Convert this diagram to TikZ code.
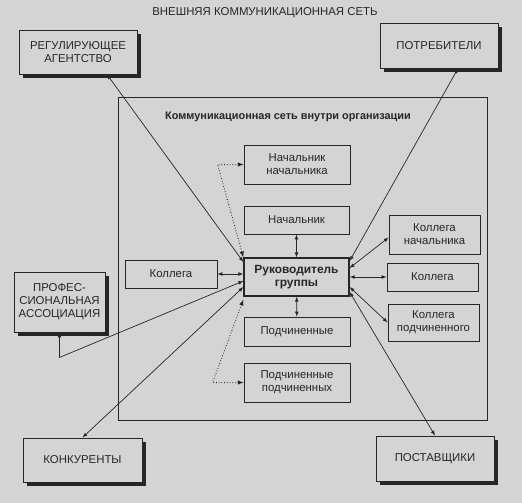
\documentclass[tikz,border=0pt]{standalone}
\usepackage{fontspec}
\setmainfont{Liberation Sans}
\usetikzlibrary{shadows}
\definecolor{paper}{gray}{0.83}
\definecolor{ink}{gray}{0.15}

\begin{document}
\begin{tikzpicture}[x=1pt,y=-1pt,font=\fontsize{11.4}{13}\selectfont]
      \tikzstyle{outbox}=[draw=ink, fill=paper, line width=0.9pt, text=ink,
        align=center, inner sep=0pt,
        drop shadow={shadow xshift=4pt, shadow yshift=-4pt, fill=ink, opacity=1}];
      \tikzstyle{inbox}=[draw=ink, fill=paper, line width=0.8pt, text=ink,
        align=center, inner sep=0pt];
      \tikzstyle{link}=[draw=ink, line width=0.7pt, latex-latex];
      \tikzstyle{dotlink}=[link, dotted, line width=1pt];
      \fill[paper] (0,0) rectangle (522,503);
      \useasboundingbox (0,0) rectangle (522,503);
      % external network
      \draw (265,13) node[text=ink] (title) {ВНЕШНЯЯ КОММУНИКАЦИОННАЯ СЕТЬ};
      \draw (78,52) node[style=outbox,minimum width=118pt,minimum height=44pt] (regul) {РЕГУЛИРУЮЩЕЕ\\АГЕНТСТВО};
      \draw (439,45.5) node[style=outbox,minimum width=118pt,minimum height=45pt] (potreb) {ПОТРЕБИТЕЛИ};
      \draw (59.5,302) node[style=outbox,minimum width=91pt,minimum height=60pt] (prof) {ПРОФЕС-\\СИОНАЛЬНАЯ\\АССОЦИАЦИЯ};
      \draw (82.5,460) node[style=outbox,minimum width=119pt,minimum height=44pt] (konk) {КОНКУРЕНТЫ};
      \draw (435,458.5) node[style=outbox,minimum width=118pt,minimum height=45pt] (supp) {ПОСТАВЩИКИ};
      % network inside the organisation
      \draw[draw=ink, line width=0.9pt] (118,97) rectangle (487,420);
      \draw (288,117) node[text=ink,font=\fontsize{10.9}{13}\selectfont\bfseries] (intitle) {Коммуникационная сеть внутри организации};
      \draw (297,164.5) node[style=inbox,minimum width=106pt,minimum height=39pt] (bb) {Начальник\\начальника};
      \draw (296.5,220) node[style=inbox,minimum width=105pt,minimum height=28pt] (boss) {Начальник};
      \draw (296.5,277) node[style=inbox,line width=1.3pt,minimum width=105pt,minimum height=38pt,font=\fontsize{11.9}{13.5}\selectfont\bfseries] (lead) {Руководитель\\группы};
      \draw (297,331.5) node[style=inbox,minimum width=106pt,minimum height=29pt] (sub) {Подчиненные};
      \draw (297,382.5) node[style=inbox,minimum width=106pt,minimum height=39pt] (ss) {Подчиненные\\подчиненных};
      \draw (171,274) node[style=inbox,minimum width=92pt,minimum height=28pt] (colL) {Коллега};
      \draw (434.5,234.5) node[style=inbox,minimum width=91pt,minimum height=39pt] (colB) {Коллега\\начальника};
      \draw (432.5,277) node[style=inbox,minimum width=91pt,minimum height=28pt] (colR) {Коллега};
      \draw (433.5,322.5) node[style=inbox,minimum width=91pt,minimum height=37pt] (colS) {Коллега\\подчиненного};
      % links
      \draw[link] ([xshift=29pt]regul.south) -- ([yshift=15pt]lead.west);
      \draw[link] ([xshift=19pt]potreb.south) -- ([yshift=16pt]lead.east);
      \draw[link] (colL.east) -- (colL.east -| lead.west);
      \draw[link] (prof.south) -- ++(0,25) -- ([yshift=-4pt]lead.west);
      \draw[link] (konk.north) -- ([yshift=-10pt]lead.west);
      \draw[dotlink] (bb.west) -- ++(-26,0) -- (lead.north west);
      \draw[dotlink] (ss.west) -- ++(-31,0) -- ([yshift=-3pt]lead.south west);
      \draw[link] (boss) -- (lead);
      \draw[link] (lead) -- (sub);
      \draw[link] ([yshift=9pt]lead.east) -- ([yshift=-3pt]colB.west);
      \draw[link] (lead.east) -- (colR.west);
      \draw[link] ([yshift=-10pt]lead.east) -- (colS.west);
      \draw[link] ([yshift=-15pt]lead.east) -- (supp.north);
    \end{tikzpicture}
\end{document}
